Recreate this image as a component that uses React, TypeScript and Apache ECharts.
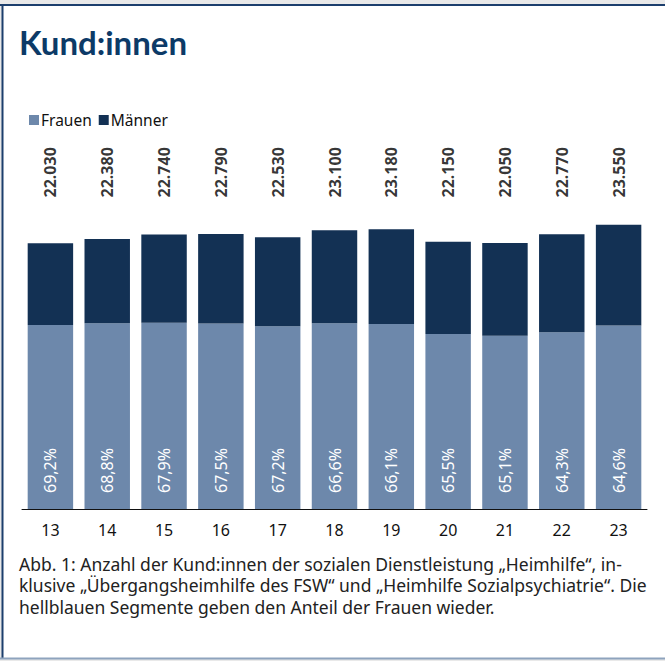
import React, { useEffect, useRef } from "react";
import * as echarts from "echarts";

const years = ["13", "14", "15", "16", "17", "18", "19", "20", "21", "22", "23"];
const totals = [22030, 22380, 22740, 22790, 22530, 23100, 23180, 22150, 22050, 22770, 23550];
const womenShare = [69.2, 68.8, 67.9, 67.5, 67.2, 66.6, 66.1, 65.5, 65.1, 64.3, 64.6];
const seriesNames = ["Frauen", "Männer"];
const captionLines = [
  "Abb. 1: Anzahl der Kund:innen der sozialen Dienstleistung „Heimhilfe“, in-",
  "klusive „Übergangsheimhilfe des FSW“ und „Heimhilfe Sozialpsychiatrie“. Die",
  "hellblauen Segmente geben den Anteil der Frauen wieder.",
];
const TITLE = "Kund:innen";
const TOTAL_LABEL_LEVEL = 27900;

const women = totals.map((t, i) => Math.round((t * womenShare[i]) / 100));
const men = totals.map((t, i) => t - women[i]);

const fmtThousands = (v: number) => v.toString().replace(/\B(?=(\d{3})+(?!\d))/g, ".");
const fmtPct = (v: number) => v.toFixed(1).replace(".", ",") + "%";

export default function App() {
  const ref = useRef<HTMLDivElement>(null);
  useEffect(() => {
    if (!ref.current) return;
    const chart = echarts.init(ref.current, null, { renderer: "svg" });
    const font = "'Noto Sans', sans-serif";
    const captionTexts = captionLines.map((line, i) => ({
      type: "text",
      left: 19,
      top: 554 + i * 21.6,
      style: { text: line, fontFamily: font, fontSize: 17.5, lineHeight: 19, fill: "#222222" },
    }));
    chart.setOption({
      animation: false,
      backgroundColor: "#e9e9e9",
      textStyle: { fontFamily: font },
      graphic: [
        { type: "rect", z: -10, shape: { x: 2, y: 5, width: 680, height: 653 }, style: { fill: "#ffffff" } },
        { type: "line", z: -5, shape: { x1: 0, y1: 5, x2: 665, y2: 5 }, style: { stroke: "#1c3f6d", lineWidth: 2 } },
        { type: "line", z: -5, shape: { x1: 2.5, y1: 5, x2: 2.5, y2: 659 }, style: { stroke: "#1c3f6d", lineWidth: 2 } },
        { type: "line", z: -5, shape: { x1: 0, y1: 658.5, x2: 665, y2: 658.5 }, style: { stroke: "#8ea3bd", lineWidth: 2 } },
        {
          type: "text",
          left: 19,
          top: 25,
          style: { text: TITLE, fontFamily: "Lato, sans-serif", fontWeight: "bold", fontSize: 33, fill: "#0c3a67" },
        },
        ...captionTexts,
      ],
      legend: {
        left: 24,
        top: 107,
        itemWidth: 10,
        itemHeight: 10,
        itemGap: 7,
        icon: "rect",
        data: seriesNames,
        textStyle: { fontSize: 15.5, color: "#111111", fontFamily: font, padding: [0, 0, 0, -3] },
      },
      grid: { left: 22, right: 18, top: 147, bottom: 152 },
      xAxis: {
        type: "category",
        data: years,
        axisLine: { lineStyle: { color: "#111111", width: 1 } },
        axisTick: { show: false },
        axisLabel: { fontSize: 16, color: "#111111", margin: 13, fontFamily: font },
      },
      yAxis: { type: "value", min: 0, max: 30000, show: false, splitLine: { show: false } },
      series: [
        {
          name: seriesNames[0],
          type: "bar",
          stack: "total",
          barCategoryGap: "20%",
          data: women,
          itemStyle: { color: "#6d88ab" },
          label: {
            show: true,
            position: "insideBottom",
            distance: 16,
            rotate: 90,
            align: "left",
            verticalAlign: "middle",
            color: "#ffffff",
            fontSize: 16,
            fontFamily: font,
            formatter: (p: any) => fmtPct(womenShare[p.dataIndex]),
          },
        },
        {
          name: seriesNames[1],
          type: "bar",
          stack: "total",
          barCategoryGap: "20%",
          data: men,
          itemStyle: { color: "#133154" },
        },
        {
          type: "scatter",
          symbolSize: 0,
          silent: true,
          data: years.map((y) => [y, TOTAL_LABEL_LEVEL]),
          label: {
            show: true,
            position: "inside",
            rotate: 90,
            align: "center",
            verticalAlign: "middle",
            color: "#000000",
            fontWeight: "bold",
            fontSize: 16,
            fontFamily: font,
            formatter: (p: any) => fmtThousands(totals[p.dataIndex]),
          },
        },
      ],
    });
    return () => chart.dispose();
  }, []);
  return <div ref={ref} style={{ position: "absolute", left: 0, top: 0, width: 665, height: 661 }} />;
}
